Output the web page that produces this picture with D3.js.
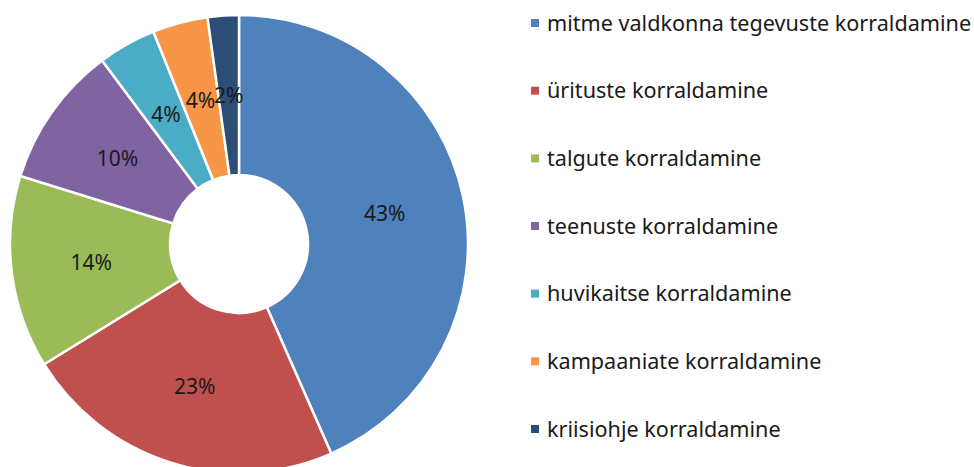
<!DOCTYPE html>
<html>
<head>
<meta charset="utf-8">
<script src="https://cdn.jsdelivr.net/npm/d3@7"></script>
<style>
  body { margin: 0; background: #fff; }
  text { font-family: "Noto Sans", Lato, sans-serif; fill: #1a1a1a; }
</style>
</head>
<body>
<script>
// Größe des Bildes
const width = 974;
const height = 467;

// Kategorien und Anteile (in %)
const categories = [
  "mitme valdkonna tegevuste korraldamine",
  "ürituste korraldamine",
  "talgute korraldamine",
  "teenuste korraldamine",
  "huvikaitse korraldamine",
  "kampaaniate korraldamine",
  "kriisiohje korraldamine"
];
const values = [43.4, 22.8, 13.6, 10.0, 4.1, 3.9, 2.2];
const colors = ["#4F81BD", "#C0504D", "#9BBB59", "#8064A2", "#4BACC6", "#F79646", "#2C4D75"];

const total = d3.sum(values);
const data = categories.map((c, i) => ({ name: c, value: values[i] }));

const color = d3.scaleOrdinal().domain(categories).range(colors);

const svg = d3.select("body").append("svg")
    .attr("width", width)
    .attr("height", height)
    .attr("viewBox", [0, 0, width, height]);

// Donut
const cx = 239, cy = 244;
const outerR = 229, innerR = 69;

const pie = d3.pie().sort(null).value(d => d.value);
const arc = d3.arc().innerRadius(innerR).outerRadius(outerR);
const arcs = pie(data);

const g = svg.append("g").attr("transform", `translate(${cx},${cy})`);

g.selectAll("path")
  .data(arcs)
  .join("path")
    .attr("d", arc)
    .attr("fill", d => color(d.data.name))
    .attr("stroke", "#fff")
    .attr("stroke-width", 2.5);

// Prozent-Beschriftungen
g.selectAll("text")
  .data(arcs)
  .join("text")
    .attr("transform", d => `translate(${arc.centroid(d)})`)
    .attr("text-anchor", "middle")
    .attr("dy", "0.36em")
    .attr("font-size", 21)
    .text(d => Math.round(d.data.value / total * 100) + "%");

// Legende
const legendY = d3.scalePoint().domain(categories).range([23, 429]);

const legend = svg.append("g")
  .selectAll("g")
  .data(categories)
  .join("g")
    .attr("transform", d => `translate(531,${legendY(d)})`);

legend.append("rect")
    .attr("x", 0)
    .attr("y", -4)
    .attr("width", 8)
    .attr("height", 8)
    .attr("fill", d => color(d));

legend.append("text")
    .attr("x", 16)
    .attr("dy", "0.36em")
    .attr("font-size", 21.6)
    .text(d => d);
</script>
</body>
</html>
